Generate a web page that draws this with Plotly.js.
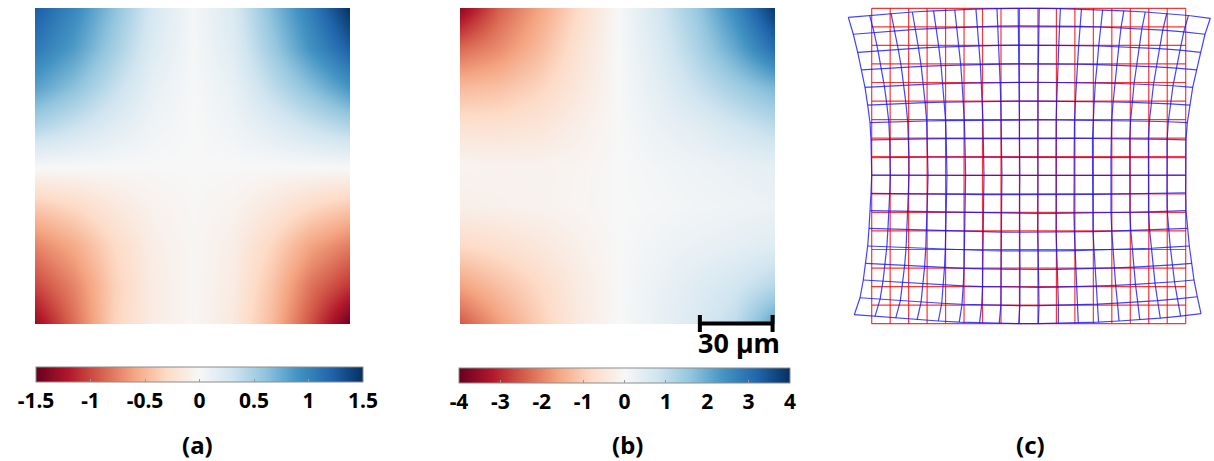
<!DOCTYPE html>
<html>
<head>
<meta charset="utf-8">
<script src="https://cdn.plot.ly/plotly-3.0.1.min.js"></script>
<style>html,body{margin:0;padding:0;background:#fff;}#chart{width:1214px;height:461px;}</style>
</head>
<body>
<div id="chart"></div>
<script>
// ---------------- DATA ----------------
// sample positions (µm) of the field samples, left->right and top->bottom
const xPos = [0, 16.25, 32.5, 48.75, 65, 81.25, 97.5, 113.75, 130];
const yPosTopDown = [130, 113.75, 97.5, 81.25, 65, 48.75, 32.5, 16.25, 0];

// (a) field, rows top -> bottom
const zA = [
  [ 1.25,  0.98,  0.62,  0.25,  0.03,  0.22,  0.64,  1.05,  1.50],
  [ 1.08,  0.85,  0.52,  0.20,  0.02,  0.18,  0.54,  0.92,  1.25],
  [ 0.82,  0.62,  0.36,  0.12,  0.01,  0.11,  0.38,  0.64,  0.90],
  [ 0.45,  0.32,  0.18,  0.06,  0.00,  0.06,  0.18,  0.32,  0.45],
  [ 0.02,  0.01,  0.00,  0.00,  0.00,  0.00,  0.00,  0.01,  0.02],
  [-0.40, -0.30, -0.16, -0.06, -0.01, -0.05, -0.16, -0.30, -0.40],
  [-0.74, -0.56, -0.30, -0.10, -0.02, -0.10, -0.32, -0.60, -0.78],
  [-1.00, -0.74, -0.36, -0.12, -0.02, -0.12, -0.42, -0.82, -1.08],
  [-1.32, -0.84, -0.35, -0.12, -0.02, -0.15, -0.48, -0.97, -1.50]
];
// (b) field, rows top -> bottom
const zB = [
  [-3.60, -2.40, -1.60, -0.80, 0.00, 0.70, 1.50, 2.60, 3.90],
  [-2.30, -1.90, -1.30, -0.60, 0.00, 0.55, 1.25, 2.10, 3.10],
  [-1.30, -1.20, -0.90, -0.45, 0.00, 0.40, 0.90, 1.40, 1.85],
  [-0.60, -0.60, -0.50, -0.25, 0.00, 0.25, 0.45, 0.75, 1.05],
  [-0.10, -0.15, -0.15, -0.10, 0.00, 0.10, 0.20, 0.30, 0.40],
  [-0.25, -0.20, -0.15, -0.08, 0.00, 0.05, 0.12, 0.18, 0.25],
  [-0.80, -0.65, -0.45, -0.22, 0.00, 0.15, 0.28, 0.38, 0.50],
  [-1.60, -1.20, -0.80, -0.35, 0.00, 0.25, 0.50, 0.75, 1.15],
  [-2.50, -1.70, -1.00, -0.40, 0.00, 0.30, 0.60, 1.05, 2.20]
];

const ticksA = [-1.5, -1, -0.5, 0, 0.5, 1, 1.5];
const tickTextA = ['-1.5', '-1', '-0.5', '0', '0.5', '1', '1.5'];
const ticksB = [-4, -3, -2, -1, 0, 1, 2, 3, 4];
const tickTextB = ['-4', '-3', '-2', '-1', '0', '1', '2', '3', '4'];

// scale bar (µm)
const scaleBarX = [99, 129];
const scaleBarLabel = '30 µm';

// (c) grid: 18 x 18 nodes (17 cells). Displacements of the deformed (blue) grid
// boundary nodes, in grid-cell units (x right +, y up +).
const nGrid = 17;
// top row, left -> right
const topDx = [-1.267,-1.110,-0.953,-0.801,-0.650,-0.504,-0.357,-0.217,-0.070,0.070,0.217,0.357,0.504,0.650,0.812,0.975,1.148,1.332];
const topDy = [-0.485,-0.377,-0.280,-0.199,-0.135,-0.081,-0.043,-0.016,0,0,-0.016,-0.043,-0.081,-0.135,-0.199,-0.280,-0.388,-0.539];
// bottom row, left -> right
const botDx = [-0.942,-0.823,-0.698,-0.541,-0.390,-0.260,-0.162,-0.097,-0.043,0.022,0.103,0.184,0.282,0.390,0.514,0.623,0.726,0.828];
const botDy = [0.485,0.399,0.296,0.216,0.146,0.086,0.043,0.016,0,0,0.016,0.043,0.086,0.146,0.216,0.296,0.410,0.539];
// left column, top -> bottom
const leftDx = [-1.267,-0.996,-0.758,-0.541,-0.363,-0.217,-0.092,-0.038,0,0,-0.038,-0.076,-0.146,-0.217,-0.325,-0.455,-0.633,-0.942];
const leftDy = [-0.485,-0.399,-0.372,-0.323,-0.259,-0.216,-0.167,-0.097,-0.054,0.016,0.027,0.092,0.140,0.189,0.253,0.356,0.399,0.485];
// right column, top -> bottom
const rightDx = [1.332,1.045,0.812,0.596,0.379,0.233,0.087,0.016,0,0,0,0.016,0.087,0.195,0.325,0.449,0.628,0.828];
const rightDy = [-0.539,-0.399,-0.372,-0.323,-0.259,-0.216,-0.167,-0.097,-0.054,0.016,0.059,0.092,0.140,0.189,0.253,0.356,0.453,0.539];

const panelLabels = ['(a)', '(b)', '(c)'];

// ---------------- BUILD ----------------
const W = 1214, H = 461;
const P = px => px / W;
const Q = py => 1 - py / H;

const RdBu = [
  [0.0, '#67001f'], [0.1, '#b2182b'], [0.2, '#d6604d'], [0.3, '#f4a582'],
  [0.4, '#fddbc7'], [0.5, '#f7f7f7'], [0.6, '#d1e5f0'], [0.7, '#92c5de'],
  [0.8, '#4393c3'], [0.9, '#2166ac'], [1.0, '#053061']
];

const yPos = yPosTopDown.slice().reverse();
const zAup = zA.slice().reverse();
const zBup = zB.slice().reverse();

const FAM = 'Noto Sans';
const tickFont = {family: FAM, size: 21, weight: 700, color: '#000'};
const bold = arr => arr.map(t => '<b>' + t + '</b>');

function cbar(x0, x1, ytop, vals, txt) {
  return {
    orientation: 'h', lenmode: 'pixels', len: x1 - x0, thicknessmode: 'pixels', thickness: 15,
    x: P((x0 + x1) / 2), xanchor: 'center', y: Q(ytop), yanchor: 'top', xpad: 0, ypad: 0,
    outlinecolor: '#8c8c8c', outlinewidth: 1,
    tickmode: 'array', tickvals: vals, ticktext: bold(txt),
    ticks: 'inside', ticklen: 3, tickcolor: '#9a9a9a', tickwidth: 1,
    tickfont: tickFont
  };
}

const traceA = {
  type: 'heatmap', x: xPos, y: yPos, z: zAup, zmin: -1.5, zmax: 1.5,
  colorscale: RdBu, zsmooth: 'best', xaxis: 'x', yaxis: 'y', hoverinfo: 'skip',
  colorbar: cbar(36, 363, 367, ticksA, tickTextA)
};
const traceB = {
  type: 'heatmap', x: xPos, y: yPos, z: zBup, zmin: -4, zmax: 4,
  colorscale: RdBu, zsmooth: 'best', xaxis: 'x2', yaxis: 'y2', hoverinfo: 'skip',
  colorbar: cbar(459, 790, 368, ticksB, tickTextB)
};

// reference (red) grid
const rx = [], ry = [];
for (let k = 0; k <= nGrid; k++) {
  rx.push(0, nGrid, null); ry.push(k, k, null);
  rx.push(k, k, null); ry.push(0, nGrid, null);
}
// deformed (blue) grid nodes from boundary displacements (Coons patch)
const N = nGrid;
const nodeX = [], nodeY = [];
for (let r = 0; r <= N; r++) {
  nodeX.push([]); nodeY.push([]);
  const v = r / N;
  for (let c = 0; c <= N; c++) {
    const u = c / N;
    const blend = (L, R, T, B) =>
      (1 - u) * L[r] + u * R[r] + (1 - v) * T[c] + v * B[c]
      - ((1 - u) * (1 - v) * T[0] + u * (1 - v) * T[N] + (1 - u) * v * B[0] + u * v * B[N]);
    nodeX[r].push(c + blend(leftDx, rightDx, topDx, botDx));
    nodeY[r].push((N - r) + blend(leftDy, rightDy, topDy, botDy));
  }
}
const bx = [], by = [];
for (let r = 0; r <= N; r++) {
  for (let c = 0; c <= N; c++) { bx.push(nodeX[r][c]); by.push(nodeY[r][c]); }
  bx.push(null); by.push(null);
}
for (let c = 0; c <= N; c++) {
  for (let r = 0; r <= N; r++) { bx.push(nodeX[r][c]); by.push(nodeY[r][c]); }
  bx.push(null); by.push(null);
}
const traceRed = {
  type: 'scatter', mode: 'lines', x: rx, y: ry, xaxis: 'x3', yaxis: 'y3',
  line: {color: 'rgba(255,0,0,0.8)', width: 1.2}, hoverinfo: 'skip', showlegend: false, connectgaps: false
};
const traceBlue = {
  type: 'scatter', mode: 'lines', x: bx, y: by, xaxis: 'x3', yaxis: 'y3',
  line: {color: 'rgba(20,20,255,0.8)', width: 1.2}, hoverinfo: 'skip', showlegend: false, connectgaps: false
};

// panel (c) axis mapping: grid 0..17 -> px 871.7..1185.7 (x), 323.7..8.3 (y)
const cx0 = 871.7, cx1 = 1185.7, cyB = 323.7, cyT = 8.3;
const ux = (cx1 - cx0) / N, uy = (cyB - cyT) / N;
const c3x = [845, 1214], c3y = [4, 330];

const hidden = {visible: false, showgrid: false, zeroline: false, fixedrange: true};
const labFont = {family: FAM, size: 24, weight: 700, color: '#000'};
const layout = {
  width: W, height: H, margin: {l: 0, r: 0, t: 0, b: 0},
  paper_bgcolor: '#fff', plot_bgcolor: 'rgba(0,0,0,0)', showlegend: false,
  xaxis: Object.assign({domain: [P(35), P(350)], range: [0, 130]}, hidden),
  yaxis: Object.assign({domain: [Q(324), Q(8)], range: [0, 130]}, hidden),
  xaxis2: Object.assign({domain: [P(460), P(775)], range: [0, 130]}, hidden),
  yaxis2: Object.assign({domain: [Q(324), Q(8)], range: [0, 130]}, hidden),
  xaxis3: Object.assign({domain: [P(c3x[0]), P(c3x[1])],
    range: [(c3x[0] - cx0) / ux, (c3x[1] - cx0) / ux]}, hidden),
  yaxis3: Object.assign({domain: [Q(c3y[1]), Q(c3y[0])],
    range: [(cyB - c3y[1]) / uy, (cyB - c3y[0]) / uy]}, hidden),
  shapes: [
    {type: 'line', xref: 'x2', yref: 'paper', x0: scaleBarX[0], x1: scaleBarX[1], y0: Q(323.5), y1: Q(323.5),
     line: {color: '#000', width: 4}},
    {type: 'line', xref: 'x2', yref: 'paper', x0: scaleBarX[0], x1: scaleBarX[0], y0: Q(315), y1: Q(332),
     line: {color: '#000', width: 4}},
    {type: 'line', xref: 'x2', yref: 'paper', x0: scaleBarX[1], x1: scaleBarX[1], y0: Q(315), y1: Q(332),
     line: {color: '#000', width: 4}}
  ],
  annotations: [
    {text: '<b>' + scaleBarLabel + '</b>', xref: 'x2', yref: 'paper', x: (scaleBarX[0] + scaleBarX[1]) / 2 + 1, y: Q(342),
     xanchor: 'center', yanchor: 'middle', showarrow: false,
     font: {family: FAM, size: 27, weight: 700, color: '#000'}},
    {text: '<b>' + panelLabels[0] + '</b>', xref: 'paper', yref: 'paper', x: P(197), y: Q(444), xanchor: 'center', yanchor: 'middle',
     showarrow: false, font: labFont},
    {text: '<b>' + panelLabels[1] + '</b>', xref: 'paper', yref: 'paper', x: P(627), y: Q(444), xanchor: 'center', yanchor: 'middle',
     showarrow: false, font: labFont},
    {text: '<b>' + panelLabels[2] + '</b>', xref: 'paper', yref: 'paper', x: P(1030), y: Q(444), xanchor: 'center', yanchor: 'middle',
     showarrow: false, font: labFont}
  ]
};

Plotly.newPlot('chart', [traceA, traceB, traceRed, traceBlue], layout, {displayModeBar: false, staticPlot: true});
</script>
</body>
</html>
